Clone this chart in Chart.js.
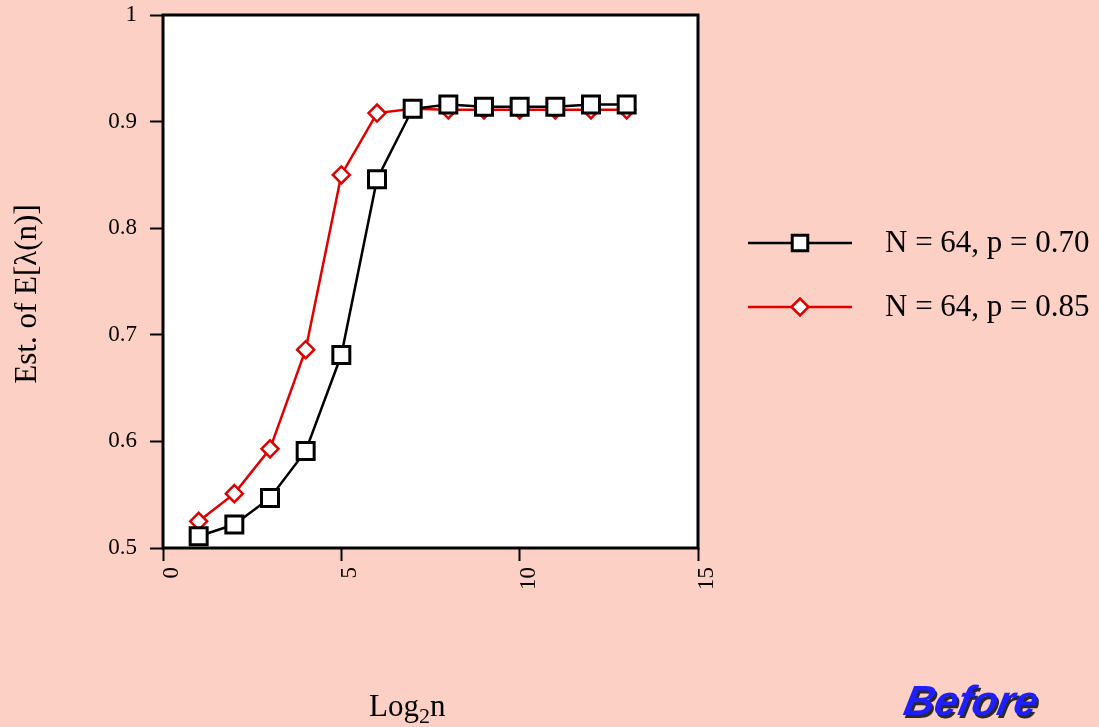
<!DOCTYPE html>
<html>
<head>
<meta charset="utf-8">
<script src="https://cdn.jsdelivr.net/npm/chart.js@4"></script>
<style>
  html, body { margin: 0; padding: 0; background: #fcd0c4; }
  canvas { display: block; }
</style>
</head>
<body>
<canvas id="grafico" width="1099" height="727"></canvas>
<script>
// valores
var log2n = [1, 2, 3, 4, 5, 6, 7, 8, 9, 10, 11, 12, 13]
var serieP070 = [0.511, 0.522, 0.547, 0.591, 0.681, 0.846, 0.912, 0.916, 0.914, 0.914, 0.914, 0.916, 0.916]
var serieP085 = [0.525, 0.551, 0.593, 0.686, 0.850, 0.908, 0.912, 0.911, 0.911, 0.911, 0.911, 0.911, 0.911]
var legendas = ['N = 64, p = 0.70', 'N = 64, p = 0.85']

const serif = '"Liberation Serif", "Times New Roman", serif'

function pontos(ys) {
  return log2n.map((x, i) => ({ x: x, y: ys[i] }))
}

// moldura, títulos, legenda e o "Before"
const extras = {
  id: 'extras',
  beforeDraw(chart) {
    const { ctx, chartArea: a } = chart
    ctx.save()
    ctx.fillStyle = '#ffffff'
    ctx.fillRect(a.left, a.top, a.right - a.left, a.bottom - a.top)
    ctx.restore()
  },
  afterDraw(chart) {
    const { ctx, chartArea: a } = chart
    ctx.save()
    // moldura
    ctx.strokeStyle = '#000'
    ctx.lineWidth = 3
    ctx.strokeRect(a.left, a.top, a.right - a.left, a.bottom - a.top)

    // título eixo y
    ctx.fillStyle = '#000'
    ctx.font = '31px ' + serif
    ctx.textAlign = 'center'
    ctx.textBaseline = 'middle'
    ctx.translate(28, 294)
    ctx.rotate(-Math.PI / 2)
    ctx.fillText('Est. of E[\u03bb(n)]', 0, 0)
    ctx.setTransform(1, 0, 0, 1, 0, 0)

    // título eixo x com subscrito
    ctx.textAlign = 'left'
    ctx.textBaseline = 'alphabetic'
    let x0 = 369, base = 716
    ctx.font = '31px ' + serif
    ctx.fillText('Log', x0, base)
    x0 += ctx.measureText('Log').width
    ctx.font = '22px ' + serif
    ctx.fillText('2', x0, base + 7)
    x0 += ctx.measureText('2').width
    ctx.font = '31px ' + serif
    ctx.fillText('n', x0, base)

    // legenda
    const linhas = [252, 316]
    chart.data.datasets.forEach((ds, i) => {
      const yc = linhas[i] - 9
      ctx.strokeStyle = ds.borderColor
      ctx.lineWidth = ds.borderWidth
      ctx.beginPath()
      ctx.moveTo(748, yc)
      ctx.lineTo(852, yc)
      ctx.stroke()
      ctx.fillStyle = ds.pointBackgroundColor
      ctx.strokeStyle = ds.pointBorderColor
      ctx.lineWidth = ds.pointBorderWidth
      Chart.helpers.drawPoint(ctx, {
        pointStyle: ds.pointStyle,
        radius: ds.legendRadius,
        borderWidth: ds.pointBorderWidth
      }, 800, yc)
      ctx.fillStyle = '#000'
      ctx.font = '31px ' + serif
      ctx.textAlign = 'left'
      ctx.textBaseline = 'alphabetic'
      ctx.fillText(ds.label, 885, linhas[i])
    })

    // Before (itálico inclinado à mão, caso a fonte não tenha itálico)
    ctx.font = 'italic bold 42px "Liberation Sans", Arial, sans-serif'
    ctx.setTransform(1, 0, -0.2, 1, 0, 0)
    const bx = 902 + 0.2 * 715
    ctx.fillStyle = '#2a2a2a'
    ctx.fillText('Before', bx + 2.5, 717.5)
    ctx.fillStyle = '#1e1eff'
    ctx.fillText('Before', bx, 715)
    ctx.restore()
  }
}

const ctx = document.getElementById('grafico')

let grafico = new Chart(ctx, {
  type: 'line',
  data: {
    datasets: [{
      label: legendas[0],
      data: pontos(serieP070),
      borderColor: '#000000',
      borderWidth: 2.5,
      pointStyle: 'rect',
      pointRadius: 12,
      legendRadius: 11,
      pointBorderWidth: 3,
      pointBorderColor: '#000000',
      pointBackgroundColor: '#ffffff',
      tension: 0
    }, {
      label: legendas[1],
      data: pontos(serieP085),
      borderColor: '#e00000',
      borderWidth: 2.5,
      pointStyle: 'rectRot',
      pointRadius: 8.5,
      legendRadius: 8.5,
      pointBorderWidth: 2.5,
      pointBorderColor: '#e00000',
      pointBackgroundColor: '#ffffff',
      tension: 0
    }]
  },
  options: {
    responsive: false,
    animation: false,
    layout: { padding: { left: 0, right: 401, top: 15, bottom: 0 } },
    plugins: {
      legend: { display: false },
      tooltip: { enabled: false }
    },
    scales: {
      x: {
        type: 'linear',
        min: 0,
        max: 15,
        afterFit(scale) {
          scale.height = 179
          scale.paddingLeft = 0
          scale.paddingRight = 0
        },
        ticks: {
          stepSize: 5,
          minRotation: 90,
          maxRotation: 90,
          labelOffset: 9,
          padding: 6,
          color: '#000',
          font: { family: serif, size: 23 }
        },
        grid: { drawOnChartArea: false, drawTicks: true, tickLength: 13, tickWidth: 2, tickColor: '#000' },
        border: { display: false }
      },
      y: {
        min: 0.5,
        max: 1,
        afterFit(scale) {
          scale.width = 163
          scale.paddingTop = 0
          scale.paddingBottom = 0
        },
        ticks: {
          stepSize: 0.1,
          padding: 13,
          color: '#000',
          font: { family: serif, size: 23 },
          callback: v => String(Math.round(v * 10) / 10)
        },
        grid: { drawOnChartArea: false, drawTicks: true, tickLength: 13, tickWidth: 2, tickColor: '#000' },
        border: { display: false }
      }
    }
  },
  plugins: [extras]
})
</script>
</body>
</html>
